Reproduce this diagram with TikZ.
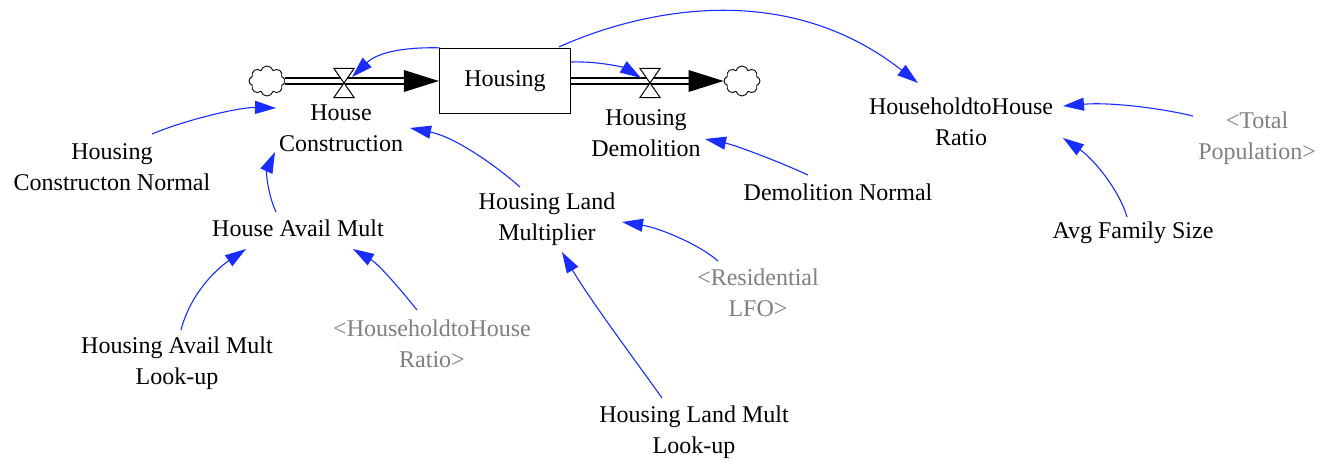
\documentclass[tikz,border=0pt]{standalone}
\usepackage{fontspec}
\setmainfont{Liberation Serif}
\usetikzlibrary{arrows.meta,shapes.symbols,calc}
\definecolor{linkblue}{RGB}{25,45,255}
\definecolor{ghost}{RGB}{128,128,128}
\begin{document}
\begin{tikzpicture}[x=1pt,y=-1pt,
  lbl/.style={font=\fontsize{24}{31}\selectfont, align=center, inner sep=1pt},
  shadowvar/.style={lbl, text=ghost},
  link/.style={draw=linkblue, line width=1.1pt, -{Triangle[length=21pt,width=13pt]}},
  stockbox/.style={lbl, draw, line width=1.3pt, minimum width=131pt, minimum height=65pt},
  cloudsym/.style={cloud, cloud puffs=8, cloud ignores aspect, draw, line width=0.9pt, minimum width=36pt, minimum height=30pt, inner sep=0pt},
  valvenode/.style={minimum width=20pt, minimum height=29pt, inner sep=0pt},
  pipe/.style={draw, line width=1.4pt, double=white, double distance=4.5pt},
  hourglass/.style={draw, fill=white, line width=1pt, line join=miter}
]
\useasboundingbox[fill=white] (0,0) rectangle (1329,463);

% stock, clouds, valves
\node[stockbox] (box) at (505,81) {Housing};
\node[cloudsym] (cL) at (267,81) {};
\node[cloudsym] (cR) at (742,81) {};
\node[valvenode] (vL) at (344,83) {};
\node[valvenode] (vR) at (650,83) {};

% pipes
\draw[pipe] (cL.east) -- ($(box.west)+(-30,0)$);
\fill ($(box.west)$) -- ($(box.west)+(-35,-11)$) -- ($(box.west)+(-35,11)$) -- cycle;
\draw[pipe] (box.east) -- ($(cR.west)+(-30,0)$);
\fill ($(cR.west)$) -- ($(cR.west)+(-35,-11)$) -- ($(cR.west)+(-35,11)$) -- cycle;
\draw[hourglass] (vL.north west) -- (vL.north east) -- (vL.south west) -- (vL.south east) -- cycle;
\draw[hourglass] (vR.north west) -- (vR.north east) -- (vR.south west) -- (vR.south east) -- cycle;

% labels
\node[lbl] (hc) at (341,128) {House\\Construction};
\node[lbl] (hd) at (646,133) {Housing\\Demolition};
\node[lbl] (ratio) at (961,122) {HouseholdtoHouse\\Ratio};
\node[shadowvar] (tp) at (1257,138) {<Total\\Population>};
\node[lbl] (afs) at (1133,233) {Avg Family Size};
\node[lbl] (dn) at (838,192) {Demolition Normal};
\node[lbl] (hlm) at (547,219) {Housing Land\\Multiplier};
\node[shadowvar] (rlfo) at (758,293) {<Residential\\LFO>};
\node[lbl] (hcn) at (112,167) {Housing\\Constructon Normal};
\node[lbl] (ham) at (298,228) {House Avail Mult};
\node[lbl] (hamlu) at (177,363) {Housing Avail Mult\\Look-up};
\node[shadowvar] (hhr) at (432,344) {<HouseholdtoHouse\\Ratio>};
\node[lbl] (hlmlu) at (694,432) {Housing Land Mult\\Look-up};

% links
\draw[link] ($(box.north west)+(1,0)$) .. controls (405,47) and (378,52) .. ($(vL)+(8,-6)$);
\draw[link] ($(box.east)+(0,-19)$) .. controls (600,61) and (625,68) .. ($(vR)+(-9,-5)$);
\draw[link] ($(box.north east)+(-12,-1)$) .. controls (630,15) and (779,-26) .. ($(ratio)+(-43,-39)$);
\draw[link] ($(hcn)+(40,-33)$) .. controls (185,120) and (240,107) .. ($(hc)+(-65,-20)$);
\draw[link] ($(ham)+(-22,-16)$) .. controls (268,195) and (266,172) .. ($(hc)+(-66,24)$);
\draw[link] ($(hlm)+(-27,-32)$) .. controls (495,165) and (455,137) .. ($(hc)+(69,0)$);
\draw[link] ($(dn)+(-30,-17)$) .. controls (780,162) and (735,145) .. ($(hd)+(59,6)$);
\draw[link] ($(tp)+(-64,-22)$) .. controls (1160,108) and (1110,102) .. ($(ratio)+(102,-16)$);
\draw[link] ($(afs)+(-6,-16)$) .. controls (1120,192) and (1095,160) .. ($(ratio)+(102,16)$);
\draw[link] ($(rlfo)+(-40,-32)$) .. controls (700,245) and (660,228) .. ($(hlm)+(75,3)$);
\draw[link] ($(hamlu)+(4,-33)$) .. controls (190,295) and (215,270) .. ($(ham)+(-52,21)$);
\draw[link] ($(hhr)+(-15,-34)$) .. controls (405,295) and (380,265) .. ($(ham)+(55,21)$);
\draw[link] ($(hlmlu)+(-32,-34)$) .. controls (635,360) and (590,300) .. ($(hlm)+(15,33)$);
\end{tikzpicture}
\end{document}
